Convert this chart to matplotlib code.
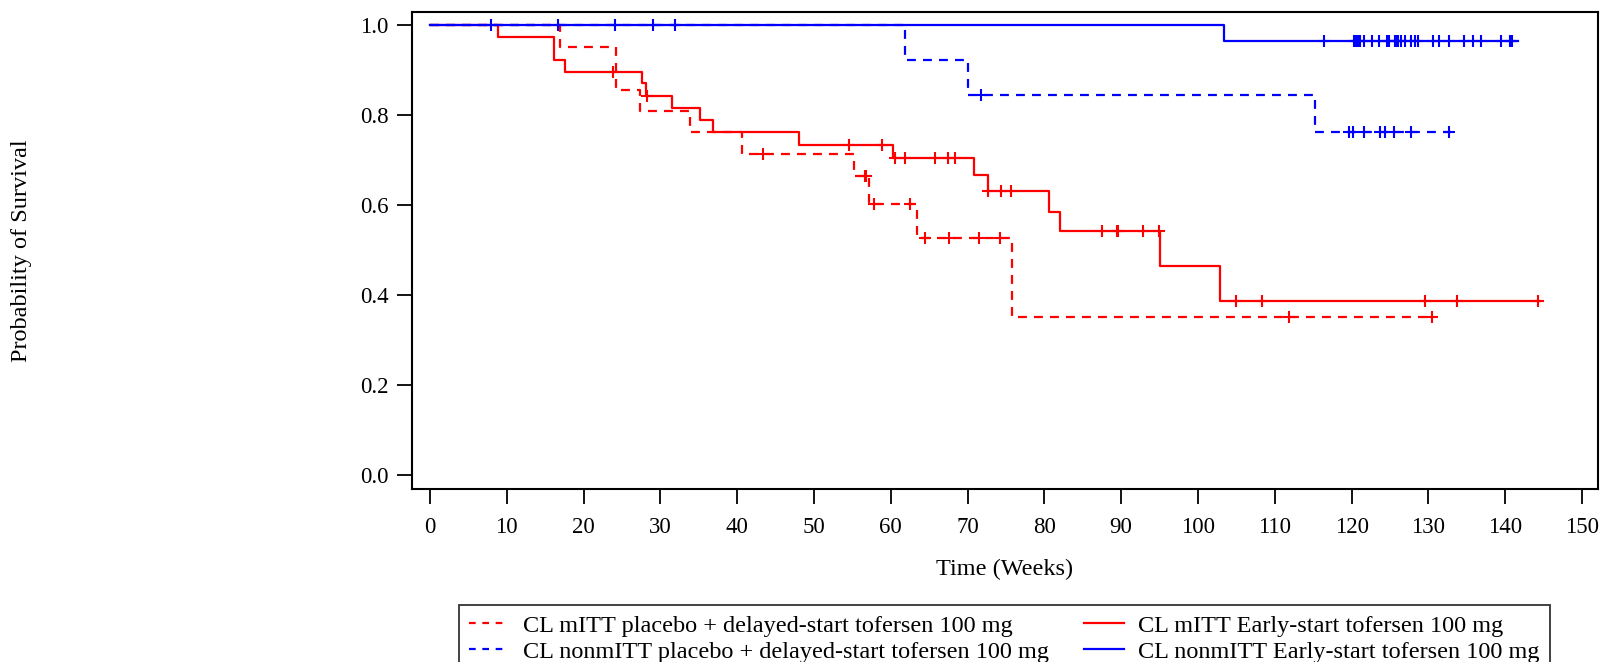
import numpy as np
import matplotlib.pyplot as plt
from matplotlib.lines import Line2D

plt.rcParams['font.family'] = ['Liberation Serif', 'DejaVu Serif']

# Kaplan-Meier steps: (start time of step, survival level)
mitt_pbo_t = [0, 16.9, 24.2, 27.3, 33.8, 40.6, 55.2, 57.2, 63.4, 75.8]
mitt_pbo_s = [1.0, 0.952, 0.857, 0.810, 0.762, 0.714, 0.664, 0.603, 0.527, 0.351]
mitt_pbo_end = 130.8
mitt_pbo_cens = [43.3, 56.6, 56.8, 57.8, 62.5, 64.45, 67.6, 71.5, 74.2, 111.85, 130.5]

mitt_early_t = [0, 8.8, 16.2, 17.6, 27.6, 28.1, 31.5, 35.1, 36.8, 48.0, 60.3,
                70.8, 72.6, 80.6, 82.05, 95.05, 102.9]
mitt_early_s = [1.0, 0.974, 0.923, 0.897, 0.871, 0.844, 0.817, 0.790, 0.763, 0.735,
                0.705, 0.668, 0.631, 0.586, 0.542, 0.464, 0.387]
mitt_early_end = 144.5
mitt_early_cens = [23.8, 28.3, 54.5, 58.8, 60.5, 61.8, 65.8, 67.5, 68.4, 72.7, 74.35,
                   75.6, 87.5, 89.4, 89.6, 92.9, 94.9, 104.9, 108.4, 129.6, 133.7, 144.3]

non_pbo_t = [0, 61.8, 70.1, 115.2]
non_pbo_s = [1.0, 0.923, 0.846, 0.762]
non_pbo_end = 133.0
non_pbo_cens = [71.8, 119.7, 120.2, 121.6, 123.7, 124.4, 125.5, 127.8, 132.7]

non_early_t = [0, 103.4]
non_early_s = [1.0, 0.965]
non_early_end = 141.7
non_early_cens = [8.0, 16.6, 24.1, 29.0, 31.9, 116.4, 120.35, 120.6, 120.8, 121.1,
                  121.65, 122.6, 123.6, 124.65, 124.9, 125.6, 125.8, 126.1, 126.4,
                  126.95, 127.7, 128.25, 128.7, 130.6, 131.4, 132.7, 134.7, 135.85,
                  136.9, 139.5, 140.6, 140.9]

labels = ['CL mITT placebo + delayed-start tofersen 100 mg',
          'CL nonmITT placebo + delayed-start tofersen 100 mg',
          'CL mITT Early-start tofersen 100 mg',
          'CL nonmITT Early-start tofersen 100 mg']

dash = (4, 3.2)
series = [
    (mitt_pbo_t, mitt_pbo_s, mitt_pbo_end, mitt_pbo_cens, 'red', True),
    (mitt_early_t, mitt_early_s, mitt_early_end, mitt_early_cens, 'red', False),
    (non_pbo_t, non_pbo_s, non_pbo_end, non_pbo_cens, 'blue', True),
    (non_early_t, non_early_s, non_early_end, non_early_cens, 'blue', False),
]

fig = plt.figure(figsize=(16.04, 6.62), dpi=100)
ax = fig.add_axes([0.2569, 0.2613, 0.7394, 0.7207])

for t, s, end, cens, col, dashed in series:
    tt = np.append(t, end)
    ss = np.append(s, s[-1])
    ls = (0, dash) if dashed else '-'
    ax.step(tt, ss, where='post', color=col, lw=1.6, linestyle=ls)
    idx = np.searchsorted(t, cens, side='right') - 1
    cy = np.asarray(s)[idx]
    ax.plot(cens, cy, linestyle='none', marker='+', color=col,
            markersize=9, markeredgewidth=1.5)

ax.set_xlim(-2.34, 152.1)
ax.set_ylim(-0.031, 1.030)
ax.set_xticks(np.arange(0, 151, 10))
ax.set_yticks(np.arange(0, 1.01, 0.2))
ax.set_yticklabels(['%.1f' % v for v in np.arange(0, 1.01, 0.2)])
ax.tick_params(axis='both', direction='out', length=11, width=1.3, labelsize=16.5)
ax.tick_params(axis='x', pad=9)
ax.tick_params(axis='y', pad=6)
for sp in ax.spines.values():
    sp.set_linewidth(1.5)

fig.text(1005 / 1604, 1 - 569 / 662, 'Time (Weeks)', fontsize=17.5,
         ha='center', va='center')
fig.text(22 / 1604, 1 - 251 / 662, 'Probability of Survival', rotation=90,
         fontsize=17.5, ha='center', va='center')

handles = [Line2D([], [], color='red', lw=1.6, linestyle=(0, (3, 3))),
           Line2D([], [], color='blue', lw=1.6, linestyle=(0, (3, 3))),
           Line2D([], [], color='red', lw=1.6),
           Line2D([], [], color='blue', lw=1.6)]
leg = fig.legend(handles, labels, ncol=2, loc='upper left',
                 bbox_to_anchor=(459 / 1604, 1 - 605 / 662), fontsize=17.5,
                 frameon=True, fancybox=False, edgecolor='black',
                 handlelength=1.65, handletextpad=0.58, columnspacing=1.45,
                 labelspacing=0.17, borderpad=0.4, borderaxespad=0)
leg.get_frame().set_linewidth(1.3)

fig.savefig('out.png', dpi=100)
